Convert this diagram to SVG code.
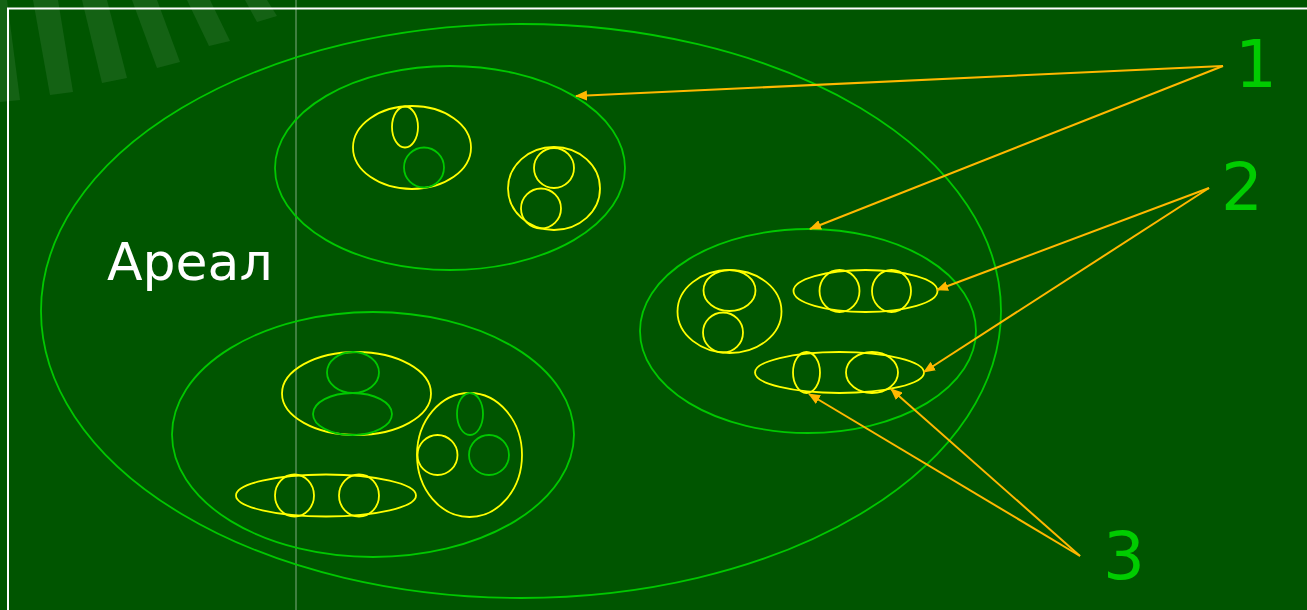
<svg xmlns="http://www.w3.org/2000/svg" width="1307" height="610" viewBox="0 0 1307 610">
<defs>
<style>
.g{fill:none;stroke:#00c800;stroke-width:1.8}
.y{fill:none;stroke:#ffff00;stroke-width:1.8}
.a{stroke:#ffb800;stroke-width:2;fill:none}
.num{font-family:"DejaVu Sans",sans-serif;font-size:66px;fill:#00cc00}
.lbl{font-family:"DejaVu Sans",sans-serif;font-size:52px;fill:#ffffff}
.st{fill:#ffffff;fill-opacity:0.08}
</style>
<marker id="ah" viewBox="0 0 12 10" refX="11" refY="5" markerWidth="12" markerHeight="10" markerUnits="userSpaceOnUse" orient="auto">
<path d="M0,0 L12,5 L0,10 z" fill="#ffb800"/>
</marker>
</defs>
<rect width="1307" height="610" fill="#005500"/>
<g id="stripes">
<polygon class="st" points="0,0 7,0 20,100 0,102"/>
<polygon class="st" points="33,0 58,0 73,92 50,95"/>
<polygon class="st" points="82,0 107,0 127,78 102,83"/>
<polygon class="st" points="132,0 157,0 180,62 157,68"/>
<polygon class="st" points="187,0 210,0 230,41 209,46"/>
<polygon class="st" points="245,0 267,0 277,16 257,22"/>
</g>
<line x1="296" y1="0" x2="296" y2="610" stroke="#ffffff" stroke-opacity="0.25" stroke-width="2"/>
<path d="M8,610 L8,8.5 L1307,8.5" fill="none" stroke="#ffffff" stroke-width="2"/>

<g id="areal">
<ellipse class="g" cx="521" cy="311" rx="480" ry="287"/>
<text class="lbl" x="107" y="280">Ареал</text>
</g>

<g id="group-top">
<ellipse class="g" cx="450" cy="168" rx="175" ry="102"/>
<ellipse class="y" cx="412" cy="147.5" rx="59" ry="41.5"/>
<ellipse class="y" cx="405" cy="127" rx="13" ry="20.5"/>
<circle class="g" cx="424" cy="167.5" r="20"/>
<ellipse class="y" cx="554" cy="188.5" rx="46" ry="41.5"/>
<circle class="y" cx="554" cy="168" r="20"/>
<circle class="y" cx="541" cy="208.5" r="20"/>
</g>

<g id="group-right">
<ellipse class="g" cx="808" cy="331" rx="168" ry="102"/>
<ellipse class="y" cx="729.5" cy="311.5" rx="52" ry="41.5"/>
<ellipse class="y" cx="729.5" cy="290.5" rx="26" ry="20.5"/>
<circle class="y" cx="723" cy="332.5" r="20"/>
<ellipse class="y" cx="865.5" cy="291" rx="72" ry="21"/>
<ellipse class="y" cx="839.5" cy="291" rx="20" ry="21"/>
<ellipse class="y" cx="891.5" cy="291" rx="19.5" ry="21"/>
<ellipse class="y" cx="839.5" cy="372.5" rx="84.5" ry="20.5"/>
<ellipse class="y" cx="806.5" cy="372.5" rx="13.5" ry="20.5"/>
<ellipse class="y" cx="872" cy="372.5" rx="26" ry="20.5"/>
</g>

<g id="group-bottom">
<ellipse class="g" cx="373" cy="434.5" rx="201" ry="122.5"/>
<ellipse class="y" cx="356.5" cy="393.5" rx="74.5" ry="41.5"/>
<ellipse class="g" cx="353" cy="372.5" rx="26" ry="20.5"/>
<ellipse class="g" cx="352.5" cy="414" rx="39.5" ry="21"/>
<ellipse class="y" cx="469.5" cy="455" rx="52.5" ry="62"/>
<ellipse class="g" cx="470" cy="414" rx="13" ry="21"/>
<circle class="y" cx="437.5" cy="455" r="20"/>
<circle class="g" cx="489" cy="455" r="20"/>
<ellipse class="y" cx="326" cy="495.5" rx="90" ry="21"/>
<ellipse class="y" cx="294.5" cy="495.5" rx="19.5" ry="21"/>
<ellipse class="y" cx="359" cy="495.5" rx="20" ry="21"/>
</g>

<g id="connectors">
<line class="a" x1="1223" y1="66" x2="576" y2="96" marker-end="url(#ah)"/>
<line class="a" x1="1223" y1="66" x2="810" y2="229" marker-end="url(#ah)"/>
<line class="a" x1="1209" y1="188" x2="937" y2="290" marker-end="url(#ah)"/>
<line class="a" x1="1209" y1="188" x2="924" y2="372" marker-end="url(#ah)"/>
<line class="a" x1="1080" y1="556" x2="809" y2="394" marker-end="url(#ah)"/>
<line class="a" x1="1080" y1="556" x2="891" y2="389" marker-end="url(#ah)"/>
</g>

<g id="labels">
<text class="num" x="1235" y="87">1</text>
<text class="num" x="1221" y="210">2</text>
<text class="num" x="1103" y="579">3</text>
</g>
</svg>
